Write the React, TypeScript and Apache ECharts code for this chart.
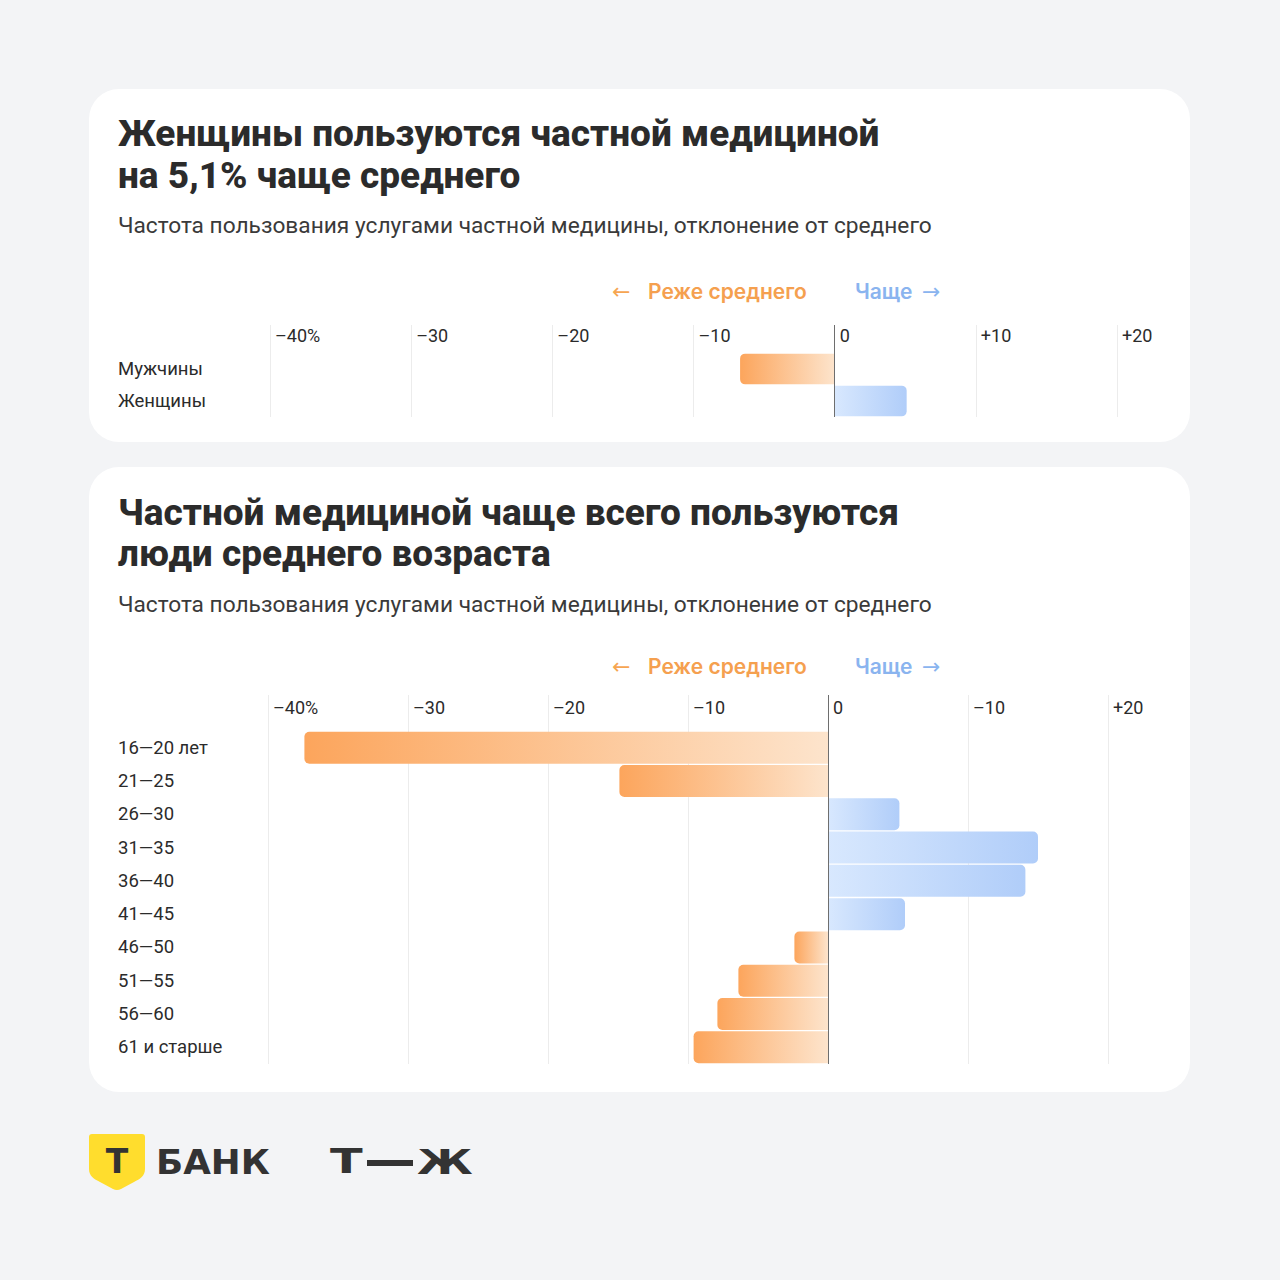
import React, { useEffect, useRef } from "react";
import * as echarts from "echarts";

const genderCategories = ["Мужчины", "Женщины"];
const genderValues = [-6.7, 5.1];
const ageCategories = ["16—20 лет", "21—25", "26—30", "31—35", "36—40", "41—45", "46—50", "51—55", "56—60", "61 и старше"];
const ageValues = [-37.4, -14.9, 5.1, 15.0, 14.1, 5.5, -2.4, -6.4, -7.9, -9.6];
const genderTickLabels = ["–40%", "–30", "–20", "–10", "0", "+10", "+20"];
const ageTickLabels = ["–40%", "–30", "–20", "–10", "0", "–10", "+20"];
const AXIS_MIN = -40;
const AXIS_MAX = 20;
const AXIS_STEP = 10;

const ORANGE_DARK = "#fca55c";
const ORANGE_LIGHT = "#fde4cc";
const BLUE_LIGHT = "#d8e8fe";
const BLUE_DARK = "#b0cdf9";
const GRID_COLOR = "#ececec";
const ZERO_COLOR = "#6e6e6e";
const TEXT = "#2b2b2b";
const FONT = "Roboto";

function barItem(v: number) {
  const neg = v < 0;
  return {
    value: v,
    itemStyle: {
      color: new echarts.graphic.LinearGradient(0, 0, 1, 0, neg
        ? [{ offset: 0, color: ORANGE_DARK }, { offset: 1, color: ORANGE_LIGHT }]
        : [{ offset: 0, color: BLUE_LIGHT }, { offset: 1, color: BLUE_DARK }]),
      borderRadius: neg ? [5, 0, 0, 5] : [0, 5, 5, 0],
    },
  };
}

function mainXAxis(gridIndex: number, labels: string[], tickLen: number, labelMargin: number) {
  return {
    type: "value",
    gridIndex,
    position: "top",
    min: AXIS_MIN,
    max: AXIS_MAX,
    interval: AXIS_STEP,
    axisLine: { show: false },
    axisTick: { show: true, length: tickLen, lineStyle: { color: GRID_COLOR, width: 1 } },
    splitLine: { show: true, lineStyle: { color: GRID_COLOR, width: 1 } },
    axisLabel: {
      show: true,
      showMinLabel: true,
      showMaxLabel: true,
      align: "left",
      verticalAlign: "middle",
      margin: labelMargin,
      padding: [0, 0, 0, 5],
      fontFamily: FONT,
      fontSize: 18,
      color: TEXT,
      formatter: (v: number) => labels[Math.round((v - AXIS_MIN) / AXIS_STEP)] ?? "",
    },
  };
}

function zeroXAxis(gridIndex: number, tickLen: number) {
  return {
    type: "value",
    gridIndex,
    position: "top",
    min: AXIS_MIN,
    max: AXIS_MAX,
    interval: AXIS_STEP,
    axisLine: { show: false },
    axisTick: { show: true, length: tickLen, customValues: [0], lineStyle: { color: ZERO_COLOR, width: 1 } },
    splitLine: { show: false },
    axisLabel: { show: false },
  };
}

function catYAxis(gridIndex: number, cats: string[], margin: number) {
  return {
    type: "category",
    gridIndex,
    data: cats,
    inverse: true,
    axisLine: { show: false },
    axisTick: { show: false },
    splitLine: { show: false },
    axisLabel: {
      align: "left",
      margin,
      fontFamily: FONT,
      fontSize: 18.5,
      color: TEXT,
    },
  };
}

function barSeries(xAxisIndex: number, yAxisIndex: number, values: number[]) {
  return {
    type: "bar",
    xAxisIndex,
    yAxisIndex,
    barCategoryGap: "4%",
    data: values.map(barItem),
    markLine: {
      silent: true,
      symbol: "none",
      label: { show: false },
      lineStyle: { color: ZERO_COLOR, width: 1, type: "solid" },
      data: [{ xAxis: 0 }],
    },
  };
}

function textEl(text: string, x: number, y: number, size: number, weight: any, fill: string, family = FONT, extra: any = {}) {
  return {
    type: "text",
    x,
    y,
    style: { text, fontSize: size, fontWeight: weight, fontFamily: family, fill, verticalAlign: "middle", align: "left" },
    ...extra,
  };
}

function legend(y: number) {
  return [
    textEl("←", 612, y, 22, 400, "#f6a552", "DejaVu Sans"),
    textEl("Реже среднего", 648, y, 21, 600, "#f5a04f", "Inter"),
    textEl("Чаще", 855, y, 21, 600, "#8ab4ef", "Inter"),
    textEl("→", 922, y, 22, 400, "#8ab4ef", "DejaVu Sans"),
  ];
}

export default function App() {
  const ref = useRef<HTMLDivElement>(null);
  useEffect(() => {
    if (!ref.current) return;
    echarts.graphic.registerShape(
      "tshield",
      echarts.graphic.extendPath(
        "M0 3 Q0 0 3 0 H53 Q56 0 56 3 V35 C56 42 51 45 45 48 L32 55 Q28 57 24 55 L11 48 C5 45 0 42 0 35 Z",
        {}
      ) as any
    );
    const chart = echarts.init(ref.current, undefined, { renderer: "svg" });
    const option: any = {
      animation: false,
      backgroundColor: "#f3f4f6",
      grid: [
        { left: 270, top: 353, width: 847, height: 64, containLabel: false },
        { left: 268, top: 731, width: 840, height: 333, containLabel: false },
      ],
      xAxis: [
        mainXAxis(0, genderTickLabels, 28, 18),
        zeroXAxis(0, 28),
        mainXAxis(1, ageTickLabels, 36, 24),
        zeroXAxis(1, 36),
      ],
      yAxis: [catYAxis(0, genderCategories, 152), catYAxis(1, ageCategories, 150)],
      series: [barSeries(0, 0, genderValues), barSeries(2, 1, ageValues)],
      graphic: [
        { type: "rect", z: -10, shape: { x: 89, y: 89, width: 1101, height: 353, r: 30 }, style: { fill: "#ffffff" } },
        { type: "rect", z: -10, shape: { x: 89, y: 467, width: 1101, height: 625, r: 30 }, style: { fill: "#ffffff" } },
        textEl("Женщины пользуются частной медициной", 118, 133, 37, 800, TEXT),
        textEl("на 5,1% чаще среднего", 118, 175, 37, 800, TEXT),
        textEl("Частота пользования услугами частной медицины, отклонение от среднего", 118, 225, 22.7, 400, "#3a3a3a"),
        ...legend(291),
        textEl("Частной медициной чаще всего пользуются", 118, 512, 37, 800, TEXT),
        textEl("люди среднего возраста", 118, 553, 37, 800, TEXT),
        textEl("Частота пользования услугами частной медицины, отклонение от среднего", 118, 604, 22.7, 400, "#3a3a3a"),
        ...legend(666),
        { type: "tshield", x: 89, y: 1134, style: { fill: "#ffdd2d" } },
        { type: "text", x: 117, y: 1161, style: { text: "Т", fontSize: 33, fontWeight: 900, fontFamily: "DejaVu Sans", fill: "#333333", verticalAlign: "middle", align: "center" } },
        textEl("БАНК", 156, 1162, 34, 900, "#333333", "DejaVu Sans", { scaleX: 1.05 }),
        textEl("Т", 330, 1162, 33, 900, "#333333", "DejaVu Sans", { scaleX: 1.45 }),
        { type: "rect", shape: { x: 367, y: 1160, width: 46, height: 6 }, style: { fill: "#333333" } },
        textEl("Ж", 417, 1162, 33, 900, "#333333", "DejaVu Sans", { scaleX: 1.38 }),
      ],
    };
    chart.setOption(option);
    return () => chart.dispose();
  }, []);
  return (
    <div
      ref={ref}
      style={{ position: "absolute", left: 0, top: 0, width: 1280, height: 1280, background: "#f3f4f6" }}
    />
  );
}
